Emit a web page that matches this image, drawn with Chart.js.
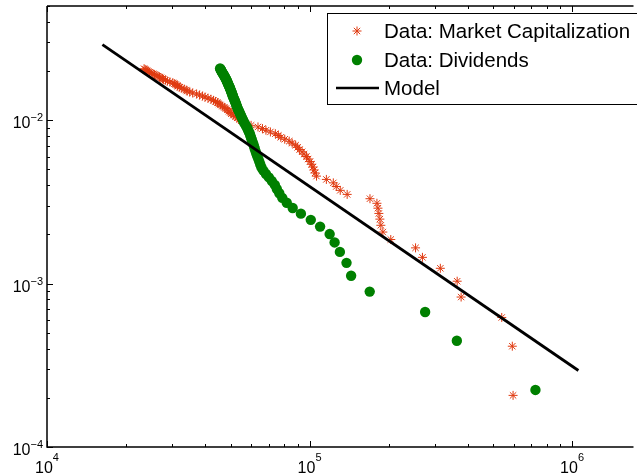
<!DOCTYPE html>
<html>
<head>
<meta charset="utf-8">
<script src="https://cdn.jsdelivr.net/npm/chart.js@4.4.0/dist/chart.umd.min.js"></script>
<style>
  html, body { margin: 0; padding: 0; background: #fff; }
  #wrap { width: 637px; height: 476px; }
</style>
</head>
<body>
<div id="wrap"><canvas id="myChart" width="637" height="476"></canvas></div>
<script>
// market capitalization (rank order, largest first)
const capX = [596000, 592000, 539600, 377900, 365000, 314900, 269200, 253400, 203900, 190200,
  186900, 185300, 183700, 182200, 180600, 169900, 139100, 130900, 126400, 123200,
  115900, 106300, 104900, 104000, 103100, 101800, 100400, 98710, 97420, 95330,
  93680, 91670, 90090, 88530, 85880, 83670, 80460, 77720, 76050, 74090,
  70940, 68220, 66170, 63630, 59890, 57100, 55870, 54910, 53960, 53030,
  52120, 51220, 50340, 49900, 49260, 48620, 47990, 47370, 46560, 45750,
  45160, 44580, 43810, 43050, 42130, 41050, 39990, 39130, 38120, 37140,
  35880, 34950, 34200, 33900, 33320, 32600, 32040, 31490, 31350, 30950,
  30550, 30150, 29380, 28750, 28250, 27760, 27520, 27170, 26820, 26470,
  26010, 25680, 25350, 24910, 24590, 24270, 24060, 23850, 23650, 23430];
const capY = [0.000207, 0.000414, 0.000621, 0.000828, 0.001035, 0.001242, 0.001449, 0.001656, 0.001863, 0.00207,
  0.002277, 0.002484, 0.002691, 0.002898, 0.003105, 0.003312, 0.003519, 0.003726, 0.003933, 0.00414,
  0.004347, 0.004554, 0.004761, 0.004968, 0.005175, 0.005382, 0.005589, 0.005796, 0.006003, 0.00621,
  0.006417, 0.006624, 0.006831, 0.007038, 0.007245, 0.007452, 0.007659, 0.007866, 0.008073, 0.00828,
  0.008487, 0.008694, 0.008901, 0.009108, 0.009315, 0.009522, 0.009729, 0.009936, 0.01014, 0.01035,
  0.01056, 0.01076, 0.01097, 0.01118, 0.01139, 0.01159, 0.0118, 0.01201, 0.01221, 0.01242,
  0.01263, 0.01283, 0.01304, 0.01325, 0.01346, 0.01366, 0.01387, 0.01408, 0.01428, 0.01449,
  0.0147, 0.0149, 0.01511, 0.01532, 0.01553, 0.01573, 0.01594, 0.01615, 0.01635, 0.01656,
  0.01677, 0.01697, 0.01718, 0.01739, 0.0176, 0.0178, 0.01801, 0.01822, 0.01842, 0.01863,
  0.01884, 0.01904, 0.01925, 0.01946, 0.01967, 0.01987, 0.02008, 0.02029, 0.02049, 0.0207];

// dividends
const divX = [725200, 364000, 275600, 169500, 144000, 138300, 130500, 124600, 119300, 109700,
  101100, 92710, 86250, 81870, 78740, 76710, 75060, 73770, 71870, 70020,
  68220, 66750, 65600, 64920, 64360, 63800, 63250, 62700, 62270, 61830,
  61460, 61090, 60660, 60260, 59890, 59530, 59220, 58760, 58350, 57950,
  57500, 57000, 56510, 56110, 55770, 55390, 55050, 54760, 54430, 54100,
  53820, 53490, 53220, 52940, 52710, 52570, 52350, 52120, 51890, 51670,
  51450, 51220, 51040, 50870, 50690, 50520, 50340, 50170, 49990, 49820,
  49650, 49470, 49260, 49090, 48920, 48750, 48580, 48410, 48240, 48080,
  47860, 47700, 47490, 47280, 47080, 46870, 46670, 46470, 46270, 46110,
  45950, 45790, 45630];
const divY = [0.0002235, 0.000447, 0.0006705, 0.000894, 0.001118, 0.001341, 0.001565, 0.001788, 0.002012, 0.002235,
  0.002459, 0.002682, 0.002906, 0.003129, 0.003353, 0.003576, 0.0038, 0.004023, 0.004247, 0.00447,
  0.004694, 0.004917, 0.005141, 0.005364, 0.005588, 0.005811, 0.006035, 0.006258, 0.006482, 0.006705,
  0.006929, 0.007152, 0.007376, 0.007599, 0.007823, 0.008046, 0.00827, 0.008493, 0.008717, 0.00894,
  0.009164, 0.009387, 0.009611, 0.009834, 0.01006, 0.01028, 0.0105, 0.01073, 0.01095, 0.01118,
  0.0114, 0.01162, 0.01185, 0.01207, 0.01229, 0.01252, 0.01274, 0.01296, 0.01319, 0.01341,
  0.01363, 0.01386, 0.01408, 0.0143, 0.01453, 0.01475, 0.01497, 0.0152, 0.01542, 0.01565,
  0.01587, 0.01609, 0.01632, 0.01654, 0.01676, 0.01699, 0.01721, 0.01743, 0.01766, 0.01788,
  0.0181, 0.01833, 0.01855, 0.01877, 0.019, 0.01922, 0.01944, 0.01967, 0.01989, 0.02012,
  0.02034, 0.02056, 0.02079];

// fitted model line (end points)
const modelX = [16260, 1057000];
const modelY = [0.0291, 0.000294];

const seriesNames = ["Data: Market Capitalization", "Data: Dividends", "Model"];

// axis ticks (decades) and exponent labels
const xTicks = [1e4, 1e5, 1e6];
const xTickExp = ["4", "5", "6"];
const yTicks = [1e-4, 1e-3, 1e-2];
const yTickExp = ["\u22124", "\u22123", "\u22122"];

const RED = "#e03a10";
const GREEN = "#008000";
const FONT = "'Liberation Sans', Arial, Helvetica, sans-serif";

const toPoints = function (xs, ys) {
  return xs.map(function (x, i) { return { x: x, y: ys[i] }; });
};

/**
 * 軸の枠・目盛り・ラベルを描く（MATLAB風、目盛りは内向き）
 */
const axesPlugin = {
  id: "matlabAxes",
  beforeDatasetsDraw(chart) {
    const ctx = chart.ctx;
    const a = chart.chartArea;
    const xs = chart.scales.x;
    const ys = chart.scales.y;
    ctx.save();
    ctx.strokeStyle = "#000";
    ctx.lineWidth = 1;

    // minor + major ticks on x (bottom and top)
    for (let d = 4; d <= 6; d++) {
      for (let m = 1; m <= 9; m++) {
        const v = m * Math.pow(10, d);
        if (v > xs.max) continue;
        const px = Math.round(xs.getPixelForValue(v)) + 0.5;
        const len = m === 1 ? 6 : 3;
        ctx.beginPath();
        ctx.moveTo(px, a.bottom);
        ctx.lineTo(px, a.bottom - len);
        ctx.moveTo(px, a.top);
        ctx.lineTo(px, a.top + len);
        ctx.stroke();
      }
    }
    // minor + major ticks on y (left)
    for (let d = -4; d <= -2; d++) {
      for (let m = 1; m <= 9; m++) {
        const v = m * Math.pow(10, d);
        if (v > ys.max) continue;
        const py = Math.round(ys.getPixelForValue(v)) + 0.5;
        const len = m === 1 ? 6 : 3;
        ctx.beginPath();
        ctx.moveTo(a.left, py);
        ctx.lineTo(a.left + len, py);
        ctx.stroke();
      }
    }

    // box (right side falls outside the canvas)
    ctx.lineWidth = 1.5;
    ctx.beginPath();
    ctx.moveTo(a.left, a.top);
    ctx.lineTo(a.left, a.bottom);
    ctx.lineTo(a.right + 2, a.bottom);
    ctx.moveTo(a.left, a.top);
    ctx.lineTo(a.right + 2, a.top);
    ctx.stroke();

    // tick labels: 10 with superscript exponent
    ctx.fillStyle = "#000";
    ctx.textBaseline = "alphabetic";
    xTicks.forEach(function (v, i) {
      const px = xs.getPixelForValue(v);
      ctx.font = "16px " + FONT;
      const w1 = ctx.measureText("10").width;
      ctx.font = "11px " + FONT;
      const w2 = ctx.measureText(xTickExp[i]).width;
      const x0 = px - (w1 + w2) / 2;
      ctx.font = "16px " + FONT;
      ctx.textAlign = "left";
      ctx.fillText("10", x0, a.bottom + 26);
      ctx.font = "11px " + FONT;
      ctx.fillText(xTickExp[i], x0 + w1, a.bottom + 14);
    });
    yTicks.forEach(function (v, i) {
      const py = ys.getPixelForValue(v);
      ctx.font = "11px " + FONT;
      const w2 = ctx.measureText(yTickExp[i]).width;
      const xe = a.left - 4 - w2;
      ctx.textAlign = "left";
      ctx.fillText(yTickExp[i], xe, py + 1);
      ctx.font = "16px " + FONT;
      ctx.textAlign = "right";
      ctx.fillText("10", xe, py + 8);
    });
    ctx.restore();
  },
  afterDraw(chart) {
    // legend box
    const ctx = chart.ctx;
    ctx.save();
    ctx.fillStyle = "#fff";
    ctx.strokeStyle = "#000";
    ctx.lineWidth = 1;
    ctx.fillRect(327, 13, 400, 91);
    ctx.strokeRect(327.5, 13.5, 400, 91);

    const rows = [31, 60, 88];
    ctx.font = "20.5px " + FONT;
    ctx.fillStyle = "#000";
    ctx.textAlign = "left";
    ctx.textBaseline = "middle";
    seriesNames.forEach(function (name, i) {
      ctx.fillText(name, 384, rows[i] + 1);
    });

    // star
    const sx = 357, sy = rows[0], r = 4.5;
    ctx.strokeStyle = RED;
    ctx.lineWidth = 1;
    ctx.beginPath();
    ctx.moveTo(sx - r, sy); ctx.lineTo(sx + r, sy);
    ctx.moveTo(sx, sy - r); ctx.lineTo(sx, sy + r);
    const rr = r * 0.7071;
    ctx.moveTo(sx - rr, sy - rr); ctx.lineTo(sx + rr, sy + rr);
    ctx.moveTo(sx - rr, sy + rr); ctx.lineTo(sx + rr, sy - rr);
    ctx.stroke();
    // circle
    ctx.fillStyle = GREEN;
    ctx.beginPath();
    ctx.arc(357, rows[1], 5.2, 0, Math.PI * 2);
    ctx.fill();
    // line
    ctx.strokeStyle = "#000";
    ctx.lineWidth = 2.5;
    ctx.beginPath();
    ctx.moveTo(336, rows[2]);
    ctx.lineTo(379, rows[2]);
    ctx.stroke();
    ctx.restore();
  }
};

const ctx = document.getElementById("myChart").getContext("2d");
const myChart = new Chart(ctx, {
  type: "scatter",
  data: {
    datasets: [
      {
        label: seriesNames[0],
        data: toPoints(capX, capY),
        pointStyle: "star",
        pointRadius: 4.5,
        borderColor: RED,
        backgroundColor: RED,
        pointBorderWidth: 1,
        showLine: false,
        order: 2,
      },
      {
        label: seriesNames[1],
        data: toPoints(divX, divY),
        pointStyle: "circle",
        pointRadius: 5.2,
        borderWidth: 0,
        pointBorderWidth: 0,
        backgroundColor: GREEN,
        borderColor: GREEN,
        showLine: false,
        order: 1,
      },
      {
        label: seriesNames[2],
        data: toPoints(modelX, modelY),
        showLine: true,
        pointRadius: 0,
        borderColor: "#000",
        borderWidth: 2.8,
        order: 0,
      },
    ],
  },
  options: {
    responsive: false,
    animation: false,
    devicePixelRatio: 1,
    layout: { padding: { left: 47, top: 6, right: 0, bottom: 29 } },
    plugins: { legend: { display: false }, tooltip: { enabled: false } },
    scales: {
      x: { type: "logarithmic", min: 1e4, max: 1.684e6, display: false },
      y: { type: "logarithmic", min: 1e-4, max: 0.0501, display: false },
    },
  },
  plugins: [axesPlugin],
});
</script>
</body>
</html>
